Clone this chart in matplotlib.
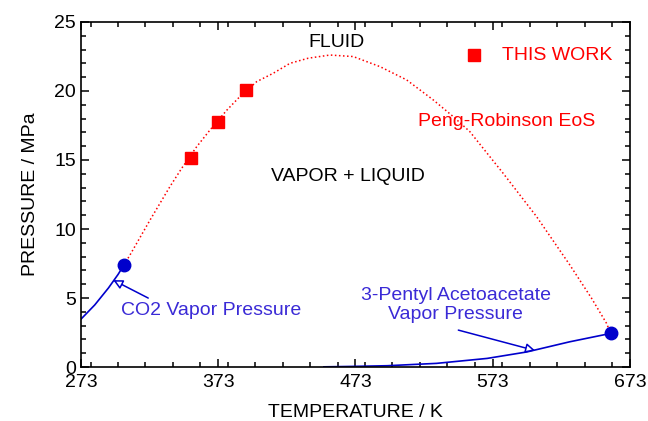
import matplotlib
matplotlib.use("Agg")
import matplotlib.pyplot as plt
from matplotlib.ticker import MultipleLocator

plt.rcParams['font.family'] = ['Liberation Sans', 'DejaVu Sans']

# Data
this_work_T = [353, 373, 393]
this_work_P = [15.15, 17.75, 20.1]

pr_T = [304.2, 308.7, 323.3, 337.8, 346.4, 357.3, 367.0, 379.2, 387.6, 401.0, 413.1, 425.3,
        438.6, 454.4, 471.4, 490.9, 510.3, 529.7, 544.3, 556.4, 580.7, 605.0, 629.3, 645.0, 656.0, 659.0]
pr_P = [7.38, 8.12, 10.65, 13.07, 14.4, 15.96, 17.17, 18.6, 19.47, 20.67, 21.28, 22.0,
        22.37, 22.6, 22.49, 21.76, 20.8, 19.35, 18.14, 17.05, 14.03, 10.9, 7.39, 5.0, 3.17, 2.44]

co2_T = [273.15, 283, 293, 300, 304.2]
co2_P = [3.49, 4.50, 5.73, 6.71, 7.38]

pent_T = [450, 470, 496, 532, 569, 598, 629, 659]
pent_P = [0.02, 0.05, 0.1, 0.27, 0.63, 1.1, 1.83, 2.44]

crit_T = [304.2, 659]
crit_P = [7.38, 2.44]

xticks = [273, 373, 473, 573, 673]

RED = '#ff0000'
BLUE = '#0000cc'
TBLUE = '#3a2ad6'
FS = 14

fig = plt.figure(figsize=(6.48, 4.21), dpi=100)
ax = fig.add_axes([0.125, 0.128, 0.847, 0.82])

ax.plot(pr_T, pr_P, linestyle=':', color=RED, lw=1.1)
ax.plot(co2_T, co2_P, '-', color=BLUE, lw=1.2)
ax.plot(pent_T, pent_P, '-', color=BLUE, lw=1.2)
ax.plot(this_work_T, this_work_P, 's', color=RED, ms=9, mec=RED)
ax.plot(crit_T, crit_P, 'o', color=BLUE, ms=9)

ax.set_xlim(273, 673)
ax.set_ylim(0, 25)
ax.set_xticks(xticks)
ax.xaxis.set_minor_locator(MultipleLocator(20))
ax.yaxis.set_major_locator(MultipleLocator(5))
ax.yaxis.set_minor_locator(MultipleLocator(1))
ax.tick_params(which='both', direction='in', top=True, right=True, labelsize=FS, width=1.1)
ax.tick_params(which='major', length=6)
ax.tick_params(which='minor', length=3.5)
ax.tick_params(axis='x', pad=5)
for s in ax.spines.values():
    s.set_linewidth(1.2)

ax.set_xlabel('TEMPERATURE / K', fontsize=FS, labelpad=9)
ax.set_ylabel('PRESSURE / MPa', fontsize=FS, labelpad=11)

ax.text(459, 23.5, 'FLUID', fontsize=FS, ha='center', va='center', color='black')
ax.text(467.8, 13.8, 'VAPOR + LIQUID', fontsize=FS, ha='center', va='center', color='black')
ax.plot([559.3], [22.6], 's', color=RED, ms=9)
ax.text(580, 22.6, 'THIS WORK', fontsize=FS, ha='left', va='center', color=RED)
ax.text(583, 17.8, 'Peng-Robinson EoS', fontsize=FS, ha='center', va='center', color=RED)
ax.text(368, 4.13, 'CO2 Vapor Pressure', fontsize=FS, ha='center', va='center', color=TBLUE)
ax.text(546, 4.5, '3-Pentyl Acetoacetate\nVapor Pressure', fontsize=FS, ha='center', va='center',
        color=TBLUE, linespacing=1.1)

ap = dict(arrowstyle='-|>', fc='white', ec=BLUE, lw=1.1, mutation_scale=14, shrinkA=0, shrinkB=0)
ax.annotate('', xy=(296.5, 6.3), xytext=(322, 5.0), arrowprops=ap)
ax.annotate('', xy=(604, 1.2), xytext=(548, 2.68), arrowprops=ap)

fig.savefig('out.png', dpi=100)
